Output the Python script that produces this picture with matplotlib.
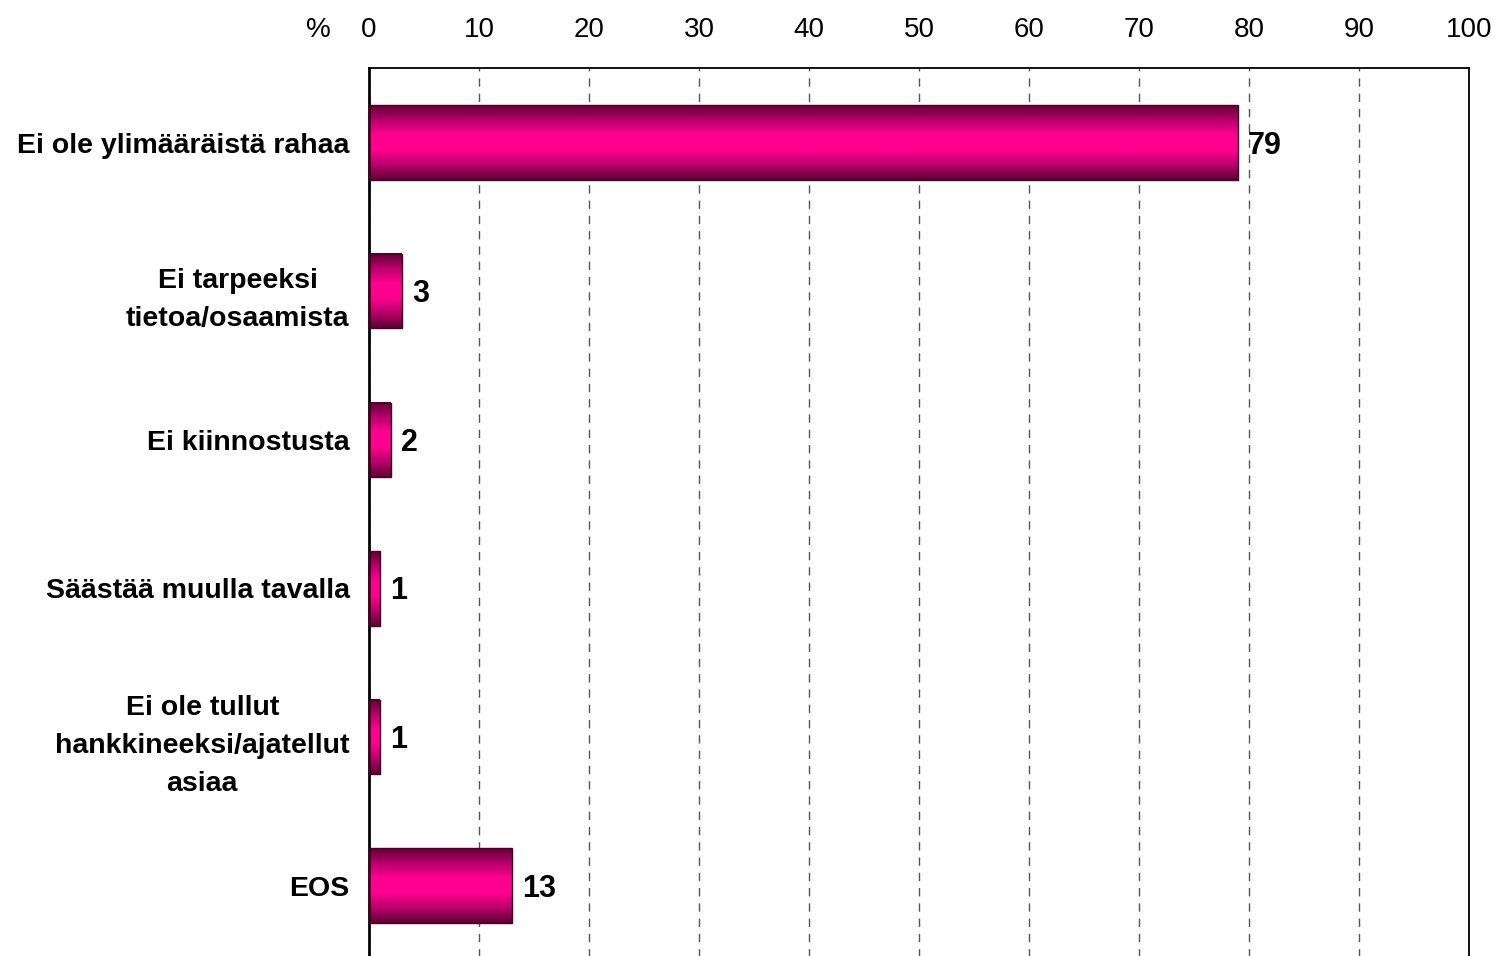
import numpy as np
import matplotlib
matplotlib.use("Agg")
import matplotlib.pyplot as plt
from matplotlib.colors import LinearSegmentedColormap

plt.rcParams['font.family'] = ['Liberation Sans', 'DejaVu Sans']

# Données
categories = [
    "Ei ole ylimääräistä rahaa",
    "Ei tarpeeksi\ntietoa/osaamista",
    "Ei kiinnostusta",
    "Säästää muulla tavalla",
    "Ei ole tullut\nhankkineeksi/ajatellut\nasiaa",
    "EOS",
]
values = [79, 3, 2, 1, 1, 13]
xticks = list(range(0, 101, 10))

fig = plt.figure(figsize=(14.97, 9.56), dpi=100)
ax = fig.add_axes([369 / 1497, -0.004, 1100 / 1497, (960 - 68.5) / 956])

y = np.arange(len(categories))
bars = ax.barh(y, values, height=0.5, facecolor="none", edgecolor="#4d0026",
               linewidth=1.0, zorder=3)

# dégradé vertical sur chaque barre
cmap = LinearSegmentedColormap.from_list(
    "rose", ["#5e0033", "#b8006a", "#ff0090", "#ff0090", "#b8006a", "#5e0033"])
grad = np.linspace(0, 1, 256).reshape(-1, 1)
for b in bars:
    x0, y0 = b.get_x(), b.get_y()
    w, h = b.get_width(), b.get_height()
    ax.imshow(grad, cmap=cmap, aspect="auto", extent=[x0, x0 + w, y0 + h, y0],
              zorder=2, interpolation="bilinear")

for b, v in zip(bars, values):
    ax.text(b.get_width() + 0.9, b.get_y() + b.get_height() / 2 + 0.02, str(v),
            ha="left", va="center", fontsize=22, fontweight="bold", zorder=4)

ax.set_xlim(0, 100)
ax.set_ylim(len(categories) - 0.5, -0.5)
ax.set_xticks(xticks)
ax.xaxis.tick_top()
ax.tick_params(axis="x", length=0, pad=18, labelsize=20)
ax.set_yticks(y)
ax.set_yticklabels(categories, fontsize=20.5, fontweight="bold", ha="right",
                   multialignment="center", linespacing=1.6)
ax.tick_params(axis="y", length=0, pad=14)

ax.grid(axis="x", linestyle=(0, (6, 5)), color="#555555", linewidth=1.0, zorder=1)
ax.set_axisbelow(True)

for side in ["top", "right"]:
    ax.spines[side].set_linewidth(1.3)
    ax.spines[side].set_color("black")
ax.spines["left"].set_linewidth(2.0)
ax.spines["bottom"].set_visible(False)

fig.text(318 / 1497, 1 - 30 / 956, "%", fontsize=20, ha="center", va="center")

fig.savefig("out.png", dpi=100)
